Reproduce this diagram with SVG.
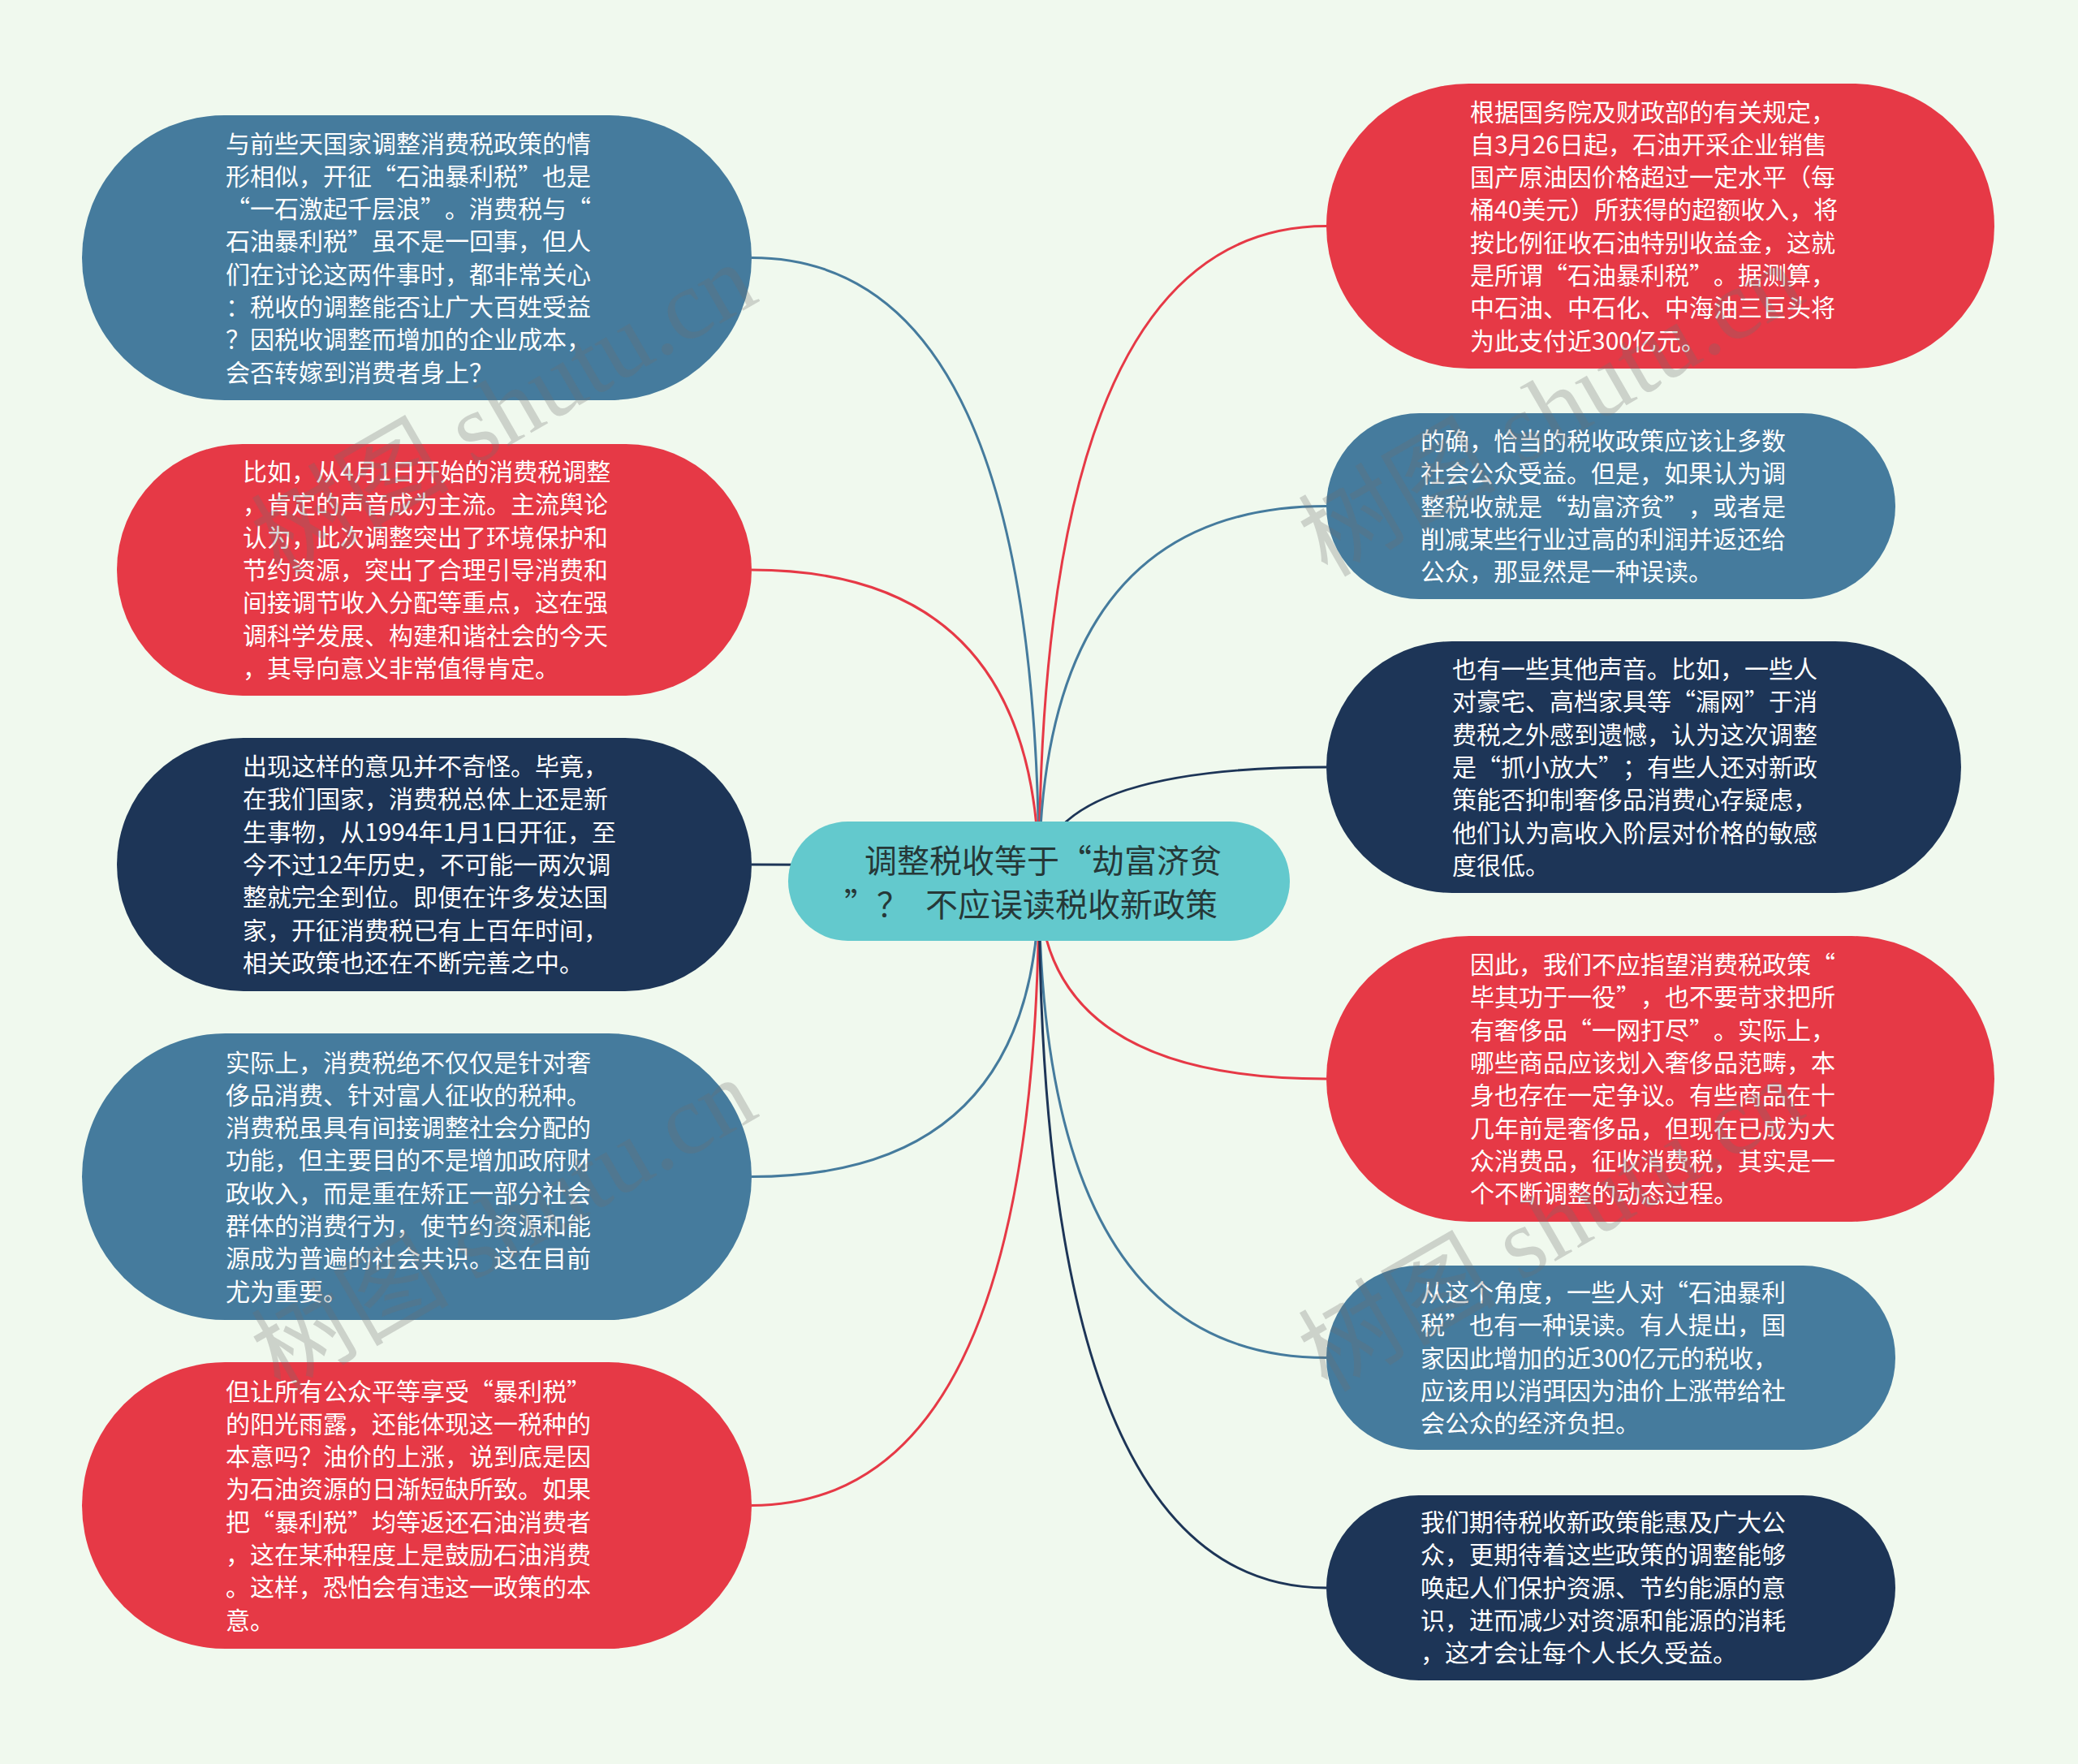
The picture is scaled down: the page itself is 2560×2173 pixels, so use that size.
<svg xmlns="http://www.w3.org/2000/svg" width="2560" height="2173" viewBox="0 0 2560 2173">
<style>
.bg{fill:#f0f9ee}
.blue{fill:#457b9d}
.red{fill:#e63946}
.navy{fill:#1d3557}
.teal{fill:#63c9cd}
text{text-spacing-trim:space-all}
.t{font-family:"Noto Sans CJK SC","Liberation Sans",sans-serif;font-size:30px;fill:#ffffff}
.ct{font-family:"Noto Sans CJK SC","Liberation Sans",sans-serif;font-size:40px;fill:#263838}
.e{fill:none;stroke-width:3}
.eb{stroke:#457b9d}
.er{stroke:#e63946}
.en{stroke:#1d3557}
.wm{font-family:"Liberation Serif","Noto Sans CJK SC",serif;font-size:122px;fill:#6e6e6e;fill-opacity:0.28}
</style>
<rect class="bg" x="0" y="0" width="2560" height="2173"/>
<g id="connectors">
<path class="e eb" d="M1280,1085 Q1280,317.5 926,317.5"/>
<path class="e er" d="M1280,1085 Q1280,702 926,702"/>
<path class="e en" d="M1280,1085 Q1280,1065 926,1065"/>
<path class="e eb" d="M1280,1085 Q1280,1449.5 926,1449.5"/>
<path class="e er" d="M1280,1085 Q1280,1854.5 926,1854.5"/>
<path class="e er" d="M1280,1085 Q1280,278.5 1634,278.5"/>
<path class="e eb" d="M1280,1085 Q1280,623.5 1634,623.5"/>
<path class="e en" d="M1280,1085 Q1280,945 1634,945"/>
<path class="e er" d="M1280,1085 Q1280,1329 1634,1329"/>
<path class="e eb" d="M1280,1085 Q1280,1672.5 1634,1672.5"/>
<path class="e en" d="M1280,1085 Q1280,1956 1634,1956"/>
</g>
<g id="center">
<rect class="teal" x="971" y="1012" width="618" height="147" rx="73.5"/>
<text class="ct"><tspan x="1065" y="1074.5">调整税收等于“劫富济贫</tspan><tspan x="1040" y="1128.5">”？ </tspan><tspan x="1140" y="1128.5">不应误读税收新政策</tspan></text>
</g>
<g id="node-l1">
<rect class="blue" x="101" y="142" width="825" height="351" rx="175.5"/>
<text class="t" x="278" y="187.5"><tspan x="278">与前些天国家调整消费税政策的情</tspan><tspan x="278" dy="40.3">形相似，开征“石油暴利税”也是</tspan><tspan x="278" dy="40.3">“一石激起千层浪”。消费税与“</tspan><tspan x="278" dy="40.3">石油暴利税”虽不是一回事，但人</tspan><tspan x="278" dy="40.3">们在讨论这两件事时，都非常关心</tspan><tspan x="278" dy="40.3">：税收的调整能否让广大百姓受益</tspan><tspan x="278" dy="40.3">？因税收调整而增加的企业成本，</tspan><tspan x="278" dy="40.3">会否转嫁到消费者身上？</tspan></text>
</g>
<g id="node-l2">
<rect class="red" x="144" y="547" width="782" height="310" rx="155"/>
<text class="t" x="299" y="592"><tspan x="299">比如，从4月1日开始的消费税调整</tspan><tspan x="299" dy="40.3">，肯定的声音成为主流。主流舆论</tspan><tspan x="299" dy="40.3">认为，此次调整突出了环境保护和</tspan><tspan x="299" dy="40.3">节约资源，突出了合理引导消费和</tspan><tspan x="299" dy="40.3">间接调节收入分配等重点，这在强</tspan><tspan x="299" dy="40.3">调科学发展、构建和谐社会的今天</tspan><tspan x="299" dy="40.3">，其导向意义非常值得肯定。</tspan></text>
</g>
<g id="node-l3">
<rect class="navy" x="144" y="909" width="782" height="312" rx="156"/>
<text class="t" x="299" y="955"><tspan x="299">出现这样的意见并不奇怪。毕竟，</tspan><tspan x="299" dy="40.3">在我们国家，消费税总体上还是新</tspan><tspan x="299" dy="40.3">生事物，从1994年1月1日开征，至</tspan><tspan x="299" dy="40.3">今不过12年历史，不可能一两次调</tspan><tspan x="299" dy="40.3">整就完全到位。即便在许多发达国</tspan><tspan x="299" dy="40.3">家，开征消费税已有上百年时间，</tspan><tspan x="299" dy="40.3">相关政策也还在不断完善之中。</tspan></text>
</g>
<g id="node-l4">
<rect class="blue" x="101" y="1273" width="825" height="353" rx="176.5"/>
<text class="t" x="278" y="1319.5"><tspan x="278">实际上，消费税绝不仅仅是针对奢</tspan><tspan x="278" dy="40.3">侈品消费、针对富人征收的税种。</tspan><tspan x="278" dy="40.3">消费税虽具有间接调整社会分配的</tspan><tspan x="278" dy="40.3">功能，但主要目的不是增加政府财</tspan><tspan x="278" dy="40.3">政收入，而是重在矫正一部分社会</tspan><tspan x="278" dy="40.3">群体的消费行为，使节约资源和能</tspan><tspan x="278" dy="40.3">源成为普遍的社会共识。这在目前</tspan><tspan x="278" dy="40.3">尤为重要。</tspan></text>
</g>
<g id="node-l5">
<rect class="red" x="101" y="1678" width="825" height="353" rx="176.5"/>
<text class="t" x="278" y="1724.5"><tspan x="278">但让所有公众平等享受“暴利税”</tspan><tspan x="278" dy="40.3">的阳光雨露，还能体现这一税种的</tspan><tspan x="278" dy="40.3">本意吗？油价的上涨，说到底是因</tspan><tspan x="278" dy="40.3">为石油资源的日渐短缺所致。如果</tspan><tspan x="278" dy="40.3">把“暴利税”均等返还石油消费者</tspan><tspan x="278" dy="40.3">，这在某种程度上是鼓励石油消费</tspan><tspan x="278" dy="40.3">。这样，恐怕会有违这一政策的本</tspan><tspan x="278" dy="40.3">意。</tspan></text>
</g>
<g id="node-r1">
<rect class="red" x="1634" y="103" width="823" height="351" rx="175.5"/>
<text class="t" x="1811" y="148.5"><tspan x="1811">根据国务院及财政部的有关规定，</tspan><tspan x="1811" dy="40.3">自3月26日起，石油开采企业销售</tspan><tspan x="1811" dy="40.3">国产原油因价格超过一定水平（每</tspan><tspan x="1811" dy="40.3">桶40美元）所获得的超额收入，将</tspan><tspan x="1811" dy="40.3">按比例征收石油特别收益金，这就</tspan><tspan x="1811" dy="40.3">是所谓“石油暴利税”。据测算，</tspan><tspan x="1811" dy="40.3">中石油、中石化、中海油三巨头将</tspan><tspan x="1811" dy="40.3">为此支付近300亿元。</tspan></text>
</g>
<g id="node-r2">
<rect class="blue" x="1634" y="509" width="701" height="229" rx="114.5"/>
<text class="t" x="1750" y="554"><tspan x="1750">的确，恰当的税收政策应该让多数</tspan><tspan x="1750" dy="40.3">社会公众受益。但是，如果认为调</tspan><tspan x="1750" dy="40.3">整税收就是“劫富济贫”，或者是</tspan><tspan x="1750" dy="40.3">削减某些行业过高的利润并返还给</tspan><tspan x="1750" dy="40.3">公众，那显然是一种误读。</tspan></text>
</g>
<g id="node-r3">
<rect class="navy" x="1634" y="790" width="782" height="310" rx="155"/>
<text class="t" x="1789" y="835"><tspan x="1789">也有一些其他声音。比如，一些人</tspan><tspan x="1789" dy="40.3">对豪宅、高档家具等“漏网”于消</tspan><tspan x="1789" dy="40.3">费税之外感到遗憾，认为这次调整</tspan><tspan x="1789" dy="40.3">是“抓小放大”；有些人还对新政</tspan><tspan x="1789" dy="40.3">策能否抑制奢侈品消费心存疑虑，</tspan><tspan x="1789" dy="40.3">他们认为高收入阶层对价格的敏感</tspan><tspan x="1789" dy="40.3">度很低。</tspan></text>
</g>
<g id="node-r4">
<rect class="red" x="1634" y="1153" width="823" height="352" rx="176"/>
<text class="t" x="1811" y="1199"><tspan x="1811">因此，我们不应指望消费税政策“</tspan><tspan x="1811" dy="40.3">毕其功于一役”，也不要苛求把所</tspan><tspan x="1811" dy="40.3">有奢侈品“一网打尽”。实际上，</tspan><tspan x="1811" dy="40.3">哪些商品应该划入奢侈品范畴，本</tspan><tspan x="1811" dy="40.3">身也存在一定争议。有些商品在十</tspan><tspan x="1811" dy="40.3">几年前是奢侈品，但现在已成为大</tspan><tspan x="1811" dy="40.3">众消费品，征收消费税，其实是一</tspan><tspan x="1811" dy="40.3">个不断调整的动态过程。</tspan></text>
</g>
<g id="node-r5">
<rect class="blue" x="1634" y="1559" width="701" height="227" rx="113.5"/>
<text class="t" x="1750" y="1603"><tspan x="1750">从这个角度，一些人对“石油暴利</tspan><tspan x="1750" dy="40.3">税”也有一种误读。有人提出，国</tspan><tspan x="1750" dy="40.3">家因此增加的近300亿元的税收，</tspan><tspan x="1750" dy="40.3">应该用以消弭因为油价上涨带给社</tspan><tspan x="1750" dy="40.3">会公众的经济负担。</tspan></text>
</g>
<g id="node-r6">
<rect class="navy" x="1634" y="1842" width="701" height="228" rx="114"/>
<text class="t" x="1750" y="1886"><tspan x="1750">我们期待税收新政策能惠及广大公</tspan><tspan x="1750" dy="40.3">众，更期待着这些政策的调整能够</tspan><tspan x="1750" dy="40.3">唤起人们保护资源、节约能源的意</tspan><tspan x="1750" dy="40.3">识，进而减少对资源和能源的消耗</tspan><tspan x="1750" dy="40.3">，这才会让每个人长久受益。</tspan></text>
</g>
<g id="watermarks">
<text class="wm" transform="translate(345,712) rotate(-30)">树图 shutu.cn</text>
<text class="wm" transform="translate(1635,712) rotate(-30)">树图 shutu.cn</text>
<text class="wm" transform="translate(345,1716) rotate(-30)">树图 shutu.cn</text>
<text class="wm" transform="translate(1635,1716) rotate(-30)">树图 shutu.cn</text>
</g>
</svg>
